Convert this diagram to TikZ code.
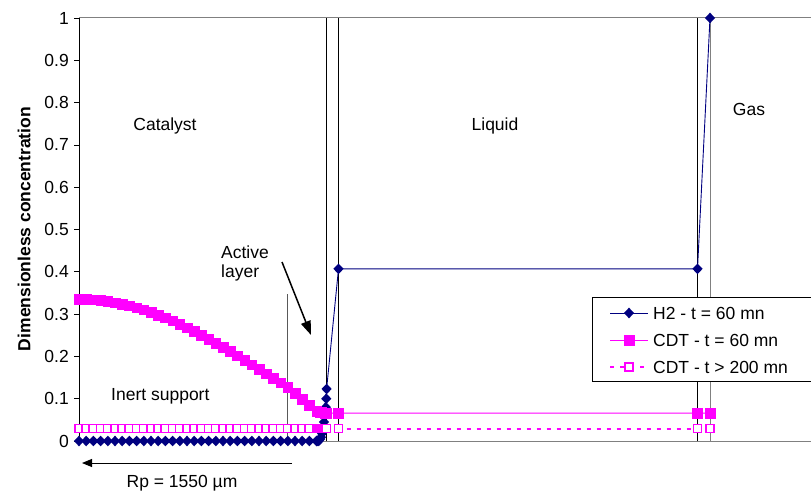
\documentclass[tikz,border=0pt]{standalone}
\usepackage{fontspec}
\setmainfont{Liberation Sans}
\usetikzlibrary{plotmarks,arrows.meta}
\definecolor{hnavy}{RGB}{0,0,128}
\definecolor{cmag}{RGB}{255,0,255}
\pgfdeclareplotmark{dia}{%
  \pgfpathmoveto{\pgfqpoint{0pt}{5.3pt}}%
  \pgfpathlineto{\pgfqpoint{5.1pt}{0pt}}%
  \pgfpathlineto{\pgfqpoint{0pt}{-5.3pt}}%
  \pgfpathlineto{\pgfqpoint{-5.1pt}{0pt}}%
  \pgfpathclose\pgfusepathqfill}
\tikzset{
  lbl/.style={inner sep=0pt, font=\fontsize{17.5}{20}\selectfont},
  hline/.style={hnavy, line width=0.9pt, mark=dia, mark options={fill=hnavy}},
  cline/.style={cmag, line width=0.9pt, mark=square*, mark size=4.8pt, mark options={fill=cmag, draw=cmag, line width=0.5pt}},
  dline/.style={cmag, line width=2pt, dash pattern=on 4pt off 6pt, mark=square*, mark size=4.2pt, mark options={solid, fill=white, draw=cmag, line width=1.5pt}},
  sepline/.style={black, line width=0.9pt},
  arr/.style={-{Triangle[length=10pt,width=8pt]}, line width=1pt}
}
\begin{document}
\begin{tikzpicture}[x=1pt,y=1pt]
\useasboundingbox (0,0) rectangle (811,491);
\begin{scope}[yshift=50pt, y=423pt]
  % frame
  \draw[gray, line width=1pt] (79,1) -- (811,1);
  \draw[gray, line width=1pt] (79,0) -- (811,0);
  \draw[black, line width=1pt] (79,0) -- (79,1);
  \foreach \i/\lab in {0/0,1/0.1,2/0.2,3/0.3,4/0.4,5/0.5,6/0.6,7/0.7,8/0.8,9/0.9,10/1}{
    \draw[black, line width=0.8pt] (74,\i/10) -- (79,\i/10);
    \node[lbl, anchor=east] (t\i) at (69,\i/10) {\lab};
  }
  % interface lines
  \draw[sepline] (326.5,0) -- (326.5,1);
  \draw[sepline] (338.5,0) -- (338.5,1);
  \draw[sepline] (697.5,0) -- (697.5,1);
  \draw[gray, line width=0.9pt] (710,0) -- (710,1);
  \draw[gray!70!black, line width=0.9pt] (287,0) -- (287,0.3475);
  % H2
  \draw[hline] plot[variable=\t, domain=0:33, samples=34] ({79+7.2*\t},0);
  \draw[hline] plot coordinates {(316.6,0) (318,0) (319,0.001) (320,0.004) (321,0.009) (322,0.018) (323,0.03) (324,0.045) (325,0.062) (325.8,0.08) (326.3,0.10) (326.6,0.123) (338.5,0.407) (697.5,0.407) (710,1)};
  % CDT t = 60
  \draw[cline] plot[variable=\t, domain=0:33, samples=34] ({79+7.2*\t},{(79+7.2*\t<=287) ? (0.335-0.372*(7.2*\t/247)^2+0.1143*(7.2*\t/247)^4) : (0.1288-(79+7.2*\t-287)*0.00197)});
  \draw[cline] plot coordinates {(316.6,0.0705) (318.3,0.069) (319.8,0.0683) (321.2,0.0677) (322.5,0.0672) (323.6,0.0668) (324.6,0.0665) (325.5,0.0662) (326.5,0.066) (338.5,0.066) (697.5,0.066) (710,0.066)};
  % CDT t > 200
  \draw[dline] plot[variable=\t, domain=0:33, samples=34] ({79+7.2*\t},0.0295);
  \draw[dline] plot coordinates {(316.6,0.0295) (318.3,0.0295) (319.8,0.0295) (321.2,0.0295) (322.5,0.0295) (323.6,0.0295) (324.6,0.0295) (325.5,0.0295) (326.5,0.0295) (338.5,0.0295) (697.5,0.0295) (710,0.0295)};
\end{scope}
% axis title
\node[lbl, rotate=90, font=\fontsize{17.5}{20}\selectfont\bfseries] (ytitle) at (24,262) {Dimensionless concentration};
% region labels
\node[lbl, anchor=base] (cat) at (165,360) {Catalyst};
\node[lbl, anchor=base] (liq) at (495,360) {Liquid};
\node[lbl, anchor=base] (gas) at (749,375) {Gas};
\node[lbl, anchor=base west] (inert) at (111,91) {Inert support};
\node[lbl, anchor=base west] (act) at (221,233) {Active};
\node[lbl, anchor=base west] (lay) at (221,214) {layer};
\node[lbl, anchor=base] (rp) at (182,4) {Rp = 1550 µm};
% arrows
\coordinate (a1) at (282,229);
\coordinate (a2) at (311,156);
\draw[arr, line width=1.5pt, -{Triangle[length=14pt,width=10pt]}] (a1) -- (a2);
\coordinate (r1) at (292,28);
\coordinate (r2) at (82,28);
\draw[arr] (r1) -- (r2);
% legend
\filldraw[draw=black, fill=white, line width=0.9pt] (815,194) -| (592,110) -- (815,110);
\coordinate (k1a) at (610,178); \coordinate (k1b) at (648,178); \coordinate (k1m) at (629,178);
\coordinate (k2a) at (610,151); \coordinate (k2b) at (648,151); \coordinate (k2m) at (629,151);
\coordinate (k3a) at (610,124); \coordinate (k3b) at (648,124); \coordinate (k3m) at (629,124);
\draw[hnavy, line width=0.9pt] (k1a) -- (k1b);
\draw[hnavy] plot[mark=dia, mark options={fill=hnavy}] coordinates {(k1m)};
\draw[cmag, line width=0.9pt] (k2a) -- (k2b);
\draw[cmag] plot[mark=square*, mark size=4.8pt, mark options={fill=cmag, line width=0.5pt}] coordinates {(k2m)};
\draw[cmag, line width=2pt, dash pattern=on 4pt off 6pt] (k3a) -- (k3b);
\draw[cmag] plot[mark=square*, mark size=4.2pt, mark options={fill=white, draw=cmag, line width=1.5pt}] coordinates {(k3m)};
\node[lbl, anchor=base west] (l1) at (653,172) {H2 - t = 60 mn};
\node[lbl, anchor=base west] (l2) at (653,145) {CDT - t = 60 mn};
\node[lbl, anchor=base west] (l3) at (653,118) {CDT - t > 200 mn};
\end{tikzpicture}
\end{document}
